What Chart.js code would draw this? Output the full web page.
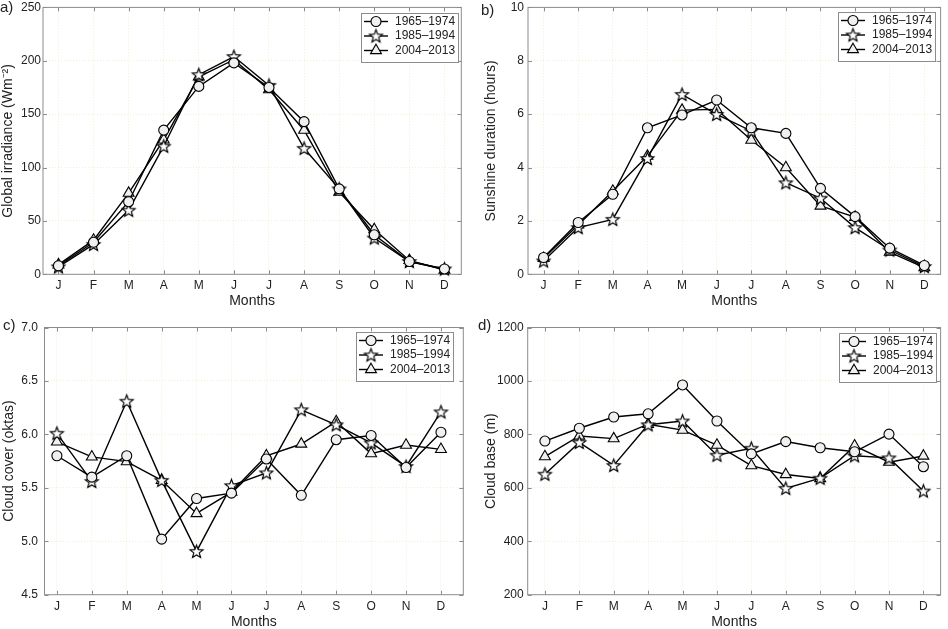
<!DOCTYPE html>
<html><head><meta charset="utf-8">
<script src="https://cdn.jsdelivr.net/npm/chart.js@4.4.0/dist/chart.umd.min.js"></script>
<style>
html,body{margin:0;padding:0;background:#fff;overflow:hidden;width:948px;height:629px}
#wrap{position:relative;width:948px;height:629px}
canvas{position:absolute;display:block}
</style></head><body>
<div id="wrap">
<canvas id="ca" style="left:0;top:0"></canvas>
<canvas id="cb" style="left:474px;top:0"></canvas>
<canvas id="cc" style="left:0;top:310px"></canvas>
<canvas id="cd" style="left:474px;top:310px"></canvas>
</div>
<script>
// ---------------- data ----------------
const months = ['J','F','M','A','M','J','J','A','S','O','N','D'];
const periods = ['1965\u20131974','1985\u20131994','2004\u20132013'];

const irr1965 = [8, 30, 68, 135, 176, 198, 175, 143, 80, 37, 12, 5];
const irr1985 = [7, 28, 60, 120, 187, 204, 177, 118, 80, 34, 12, 5];
const irr2004 = [9, 32, 76, 126, 185, 201, 173, 135, 77, 42, 13, 4];

const sun1965 = [0.63, 1.94, 3.0, 5.49, 5.97, 6.53, 5.49, 5.28, 3.22, 2.16, 0.98, 0.33];
const sun1985 = [0.5, 1.75, 2.06, 4.34, 6.74, 5.99, 5.37, 3.43, 2.85, 1.75, 0.91, 0.29];
const sun2004 = [0.6, 1.85, 3.12, 4.43, 6.15, 6.18, 5.03, 4.0, 2.56, 2.14, 0.83, 0.25];

const cloud1965 = [5.80, 5.60, 5.80, 5.02, 5.40, 5.45, 5.77, 5.43, 5.95, 5.99, 5.69, 6.02];
const cloud1985 = [6.01, 5.56, 6.31, 5.57, 4.905, 5.52, 5.64, 6.23, 6.09, 5.92, 5.70, 6.21];
const cloud2004 = [5.93, 5.79, 5.745, 5.57, 5.26, 5.46, 5.80, 5.91, 6.12, 5.82, 5.90, 5.86];

const base1965 = [775, 823, 865, 877, 985, 850, 727, 773, 750, 735, 801, 679];
const base1985 = [651, 770, 684, 836, 850, 722, 748, 598, 636, 720, 712, 588];
const base2004 = [717, 794, 784, 838, 816, 760, 683, 650, 635, 757, 696, 719];

// ---------------- styling ----------------
const FONT = '"Liberation Sans", Arial, Helvetica, sans-serif';
const INK = '#222';
const FRAME = '#8c8c8c';
const GRID = 'rgba(225,220,150,0.45)';
const MARKER_FILL = '#f0f0f0';

function makeStar(R, r, fill, stroke, lw) {
  const s = Math.ceil(2 * R + lw * 2 + 2) | 1;
  const c = document.createElement('canvas');
  c.width = s; c.height = s;
  const g = c.getContext('2d');
  g.beginPath();
  for (let k = 0; k < 10; k++) {
    const rad = (k % 2) ? r : R;
    const a = -Math.PI / 2 + k * Math.PI / 5;
    g.lineTo(s / 2 + rad * Math.cos(a), s / 2 + rad * Math.sin(a) + 0.5);
  }
  g.closePath();
  g.fillStyle = fill; g.fill();
  g.lineWidth = lw; g.lineJoin = 'miter'; g.strokeStyle = stroke; g.stroke();
  return c;
}
const starImg = makeStar(6.8, 2.9, '#ffffff', '#000', 1.15);

const markerStyles = [
  {pointStyle: 'circle', pointRadius: 5},
  {pointStyle: starImg, pointRadius: 6},
  {pointStyle: 'triangle', pointRadius: 6.3}
];

// ---------------- plugins ----------------
const frame = {
  id: 'frame',
  beforeDatasetsDraw(chart) {
    const {ctx, chartArea: a, scales} = chart;
    ctx.save();
    ctx.strokeStyle = FRAME; ctx.lineWidth = 1;
    ctx.beginPath();
    scales.x.ticks.forEach(t => {
      const px = Math.round(scales.x.getPixelForValue(t.value)) + 0.5;
      ctx.moveTo(px, a.bottom); ctx.lineTo(px, a.bottom - 4);
      ctx.moveTo(px, a.top); ctx.lineTo(px, a.top + 4);
    });
    scales.y.ticks.forEach(t => {
      const py = Math.round(scales.y.getPixelForValue(t.value)) + 0.5;
      ctx.moveTo(a.left, py); ctx.lineTo(a.left + 4, py);
      ctx.moveTo(a.right, py); ctx.lineTo(a.right - 4, py);
    });
    ctx.stroke();
    ctx.strokeRect(a.left, a.top, a.right - a.left, a.bottom - a.top);
    ctx.restore();
  }
};

const boxLegend = {
  id: 'boxLegend',
  afterDatasetsDraw(chart, args, o) {
    const {ctx, chartArea: a} = chart;
    const w = 97, h = 49;
    const x0 = Math.round(a.right - o.right - w), y0 = Math.round(a.top + o.top);
    ctx.save();
    ctx.fillStyle = '#fff'; ctx.fillRect(x0, y0, w, h);
    ctx.strokeStyle = FRAME; ctx.lineWidth = 1; ctx.strokeRect(x0 + 0.5, y0 + 0.5, w, h);
    chart.data.datasets.forEach((ds, i) => {
      const cy = y0 + 8.5 + i * 14.5;
      ctx.strokeStyle = '#000'; ctx.lineWidth = ds.borderWidth;
      ctx.beginPath(); ctx.moveTo(x0 + 3, cy); ctx.lineTo(x0 + 27, cy); ctx.stroke();
      ctx.fillStyle = ds.pointBackgroundColor; ctx.strokeStyle = ds.pointBorderColor; ctx.lineWidth = ds.pointBorderWidth;
      Chart.helpers.drawPoint(ctx, {pointStyle: ds.pointStyle, radius: ds.pointRadius, borderWidth: ds.pointBorderWidth, rotation: 0}, x0 + 15, cy);
      ctx.fillStyle = INK; ctx.font = '12px ' + FONT; ctx.textBaseline = 'middle'; ctx.textAlign = 'left';
      ctx.fillText(ds.label, x0 + 34, cy);
    });
    ctx.restore();
  }
};

const panelTag = {
  id: 'panelTag',
  afterDraw(chart, args, o) {
    const ctx = chart.ctx;
    ctx.save();
    ctx.font = '15px ' + FONT; ctx.fillStyle = INK;
    ctx.textBaseline = 'middle'; ctx.textAlign = 'left';
    ctx.fillText(o.text, o.x, o.y);
    ctx.restore();
  }
};

// ---------------- panels ----------------
function panel(id, cfg) {
  const W = cfg.w, H = cfg.h;
  const cv = document.getElementById(id);
  cv.width = W; cv.height = H;
  new Chart(cv, {
    type: 'line',
    data: {
      datasets: cfg.series.map((vals, i) => ({
        label: periods[i],
        data: vals.map((v, k) => ({x: k + 1, y: v})),
        borderColor: '#000', borderWidth: 1.4, tension: 0, fill: false, clip: false,
        pointBackgroundColor: MARKER_FILL, pointBorderColor: '#000', pointBorderWidth: 1.1,
        pointStyle: markerStyles[i].pointStyle,
        pointRadius: markerStyles[i].pointRadius,
        pointHoverRadius: markerStyles[i].pointRadius
      }))
    },
    options: {
      responsive: false, animation: false, events: [],
      layout: {padding: {left: 0, top: cfg.area.top, right: W - cfg.area.right, bottom: 0}},
      scales: {
        x: {
          type: 'linear', min: cfg.xMin, max: cfg.xMax,
          afterBuildTicks: s => { s.ticks = months.map((m, k) => ({value: k + 1})); },
          afterFit: s => { s.height = H - cfg.area.bottom; s.paddingLeft = 0; s.paddingRight = 0; },
          ticks: {callback: v => months[v - 1], font: {family: FONT, size: 12}, color: INK,
                  padding: cfg.xPad, maxRotation: 0, autoSkip: false},
          grid: {color: GRID, drawTicks: false, lineWidth: 1},
          border: {display: false, dash: [1, 2]},
          title: {display: true, text: 'Months', font: {family: FONT, size: 14, lineHeight: 1}, color: INK,
                  padding: {top: 0, bottom: cfg.xTitlePad}}
        },
        y: {
          min: cfg.yMin, max: cfg.yMax,
          afterFit: s => { s.width = cfg.area.left; s.paddingTop = 0; s.paddingBottom = 0; },
          ticks: {stepSize: cfg.yStep, font: {family: FONT, size: 12}, color: INK, padding: cfg.yPad,
                  callback: v => cfg.yDec ? v.toFixed(cfg.yDec) : String(Math.round(v))},
          grid: {color: GRID, drawTicks: false, lineWidth: 1},
          border: {display: false, dash: [1, 2]},
          title: {display: true, text: cfg.yTitle, font: {family: FONT, size: 14}, color: INK,
                  padding: {top: cfg.yTitlePad, bottom: 0}}
        }
      },
      plugins: {
        legend: {display: false}, tooltip: {enabled: false},
        boxLegend: cfg.legend,
        panelTag: cfg.tag
      }
    },
    plugins: [frame, boxLegend, panelTag]
  });
}

panel('ca', {w: 474, h: 310, area: {left: 43, right: 461.3, top: 7.3, bottom: 274.3},
  xMin: 0.56, xMax: 12.48, yMin: 0, yMax: 250, yStep: 50, yDec: 0,
  yTitle: 'Global irradiance (Wm\u207B\u00B2)', xPad: 4, yPad: 2, xTitlePad: 1.5, yTitlePad: 0,
  legend: {right: 3.3, top: 5.4}, tag: {text: 'a)', x: 0, y: 8},
  series: [irr1965, irr1985, irr2004]});

panel('cb', {w: 474, h: 310, area: {left: 54, right: 473.3, top: 7.3, bottom: 274.3},
  xMin: 0.55, xMax: 12.47, yMin: 0, yMax: 10, yStep: 2, yDec: 0,
  yTitle: 'Sunshine duration (hours)', xPad: 4, yPad: 4, xTitlePad: 1.5, yTitlePad: 9,
  legend: {right: 5.3, top: 5}, tag: {text: 'b)', x: 7, y: 10.5},
  series: [sun1965, sun1985, sun2004]});

panel('cc', {w: 474, h: 319, area: {left: 44.5, right: 463.3, top: 17.5, bottom: 284.7},
  xMin: 0.645, xMax: 12.64, yMin: 4.5, yMax: 7.0, yStep: 0.5, yDec: 1,
  yTitle: 'Cloud cover (oktas)', xPad: 4.5, yPad: 6.5, xTitlePad: 0, yTitlePad: 0.6,
  legend: {right: 10, top: 4.5}, tag: {text: 'c)', x: 3, y: 16},
  series: [cloud1965, cloud1985, cloud2004]});

panel('cd', {w: 474, h: 319, area: {left: 53.7, right: 473.3, top: 17.5, bottom: 284.7},
  xMin: 0.5, xMax: 12.5, yMin: 200, yMax: 1200, yStep: 200, yDec: 0,
  yTitle: 'Cloud base (m)', xPad: 4.5, yPad: 4, xTitlePad: 0, yTitlePad: 8.8,
  legend: {right: 5, top: 5.8}, tag: {text: 'd)', x: 4, y: 16},
  series: [base1965, base1985, base2004]});
</script>
</body></html>
